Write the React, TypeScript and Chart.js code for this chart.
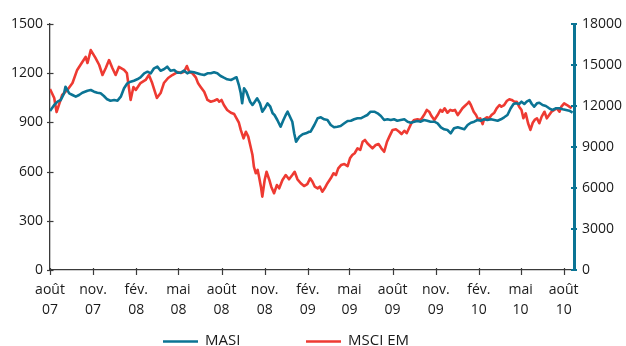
import React, { useEffect, useRef } from 'react';
import { Chart, registerables } from 'chart.js';

Chart.register(...registerables);

const START = '2007-08-01';
const END = '2010-08-23';

const tickDates = ['2007-08-01', '2007-11-01', '2008-02-01', '2008-05-01', '2008-08-01', '2008-11-01', '2009-02-01', '2009-05-01', '2009-08-01', '2009-11-01', '2010-02-01', '2010-05-01', '2010-08-01'];
const tickLabels = [['août', '07'], ['nov.', '07'], ['fév.', '08'], ['mai', '08'], ['août', '08'], ['nov.', '08'], ['fév.', '09'], ['mai', '09'], ['août', '09'], ['nov.', '09'], ['fév.', '10'], ['mai', '10'], ['août', '10']];

const seriesNames = ['MASI', 'MSCI EM'];

// MASI (right axis) – days since START, index level
const masiDays = [0, 9, 16, 23, 30, 33, 41, 48, 55, 62, 69, 80, 87, 94, 101, 108, 115, 122, 129, 137, 144, 151, 158, 165, 172, 179, 186, 193, 201, 208, 215, 222, 229, 236, 243, 250, 257, 265, 272, 279, 286, 293, 300, 307, 314, 321, 329, 336, 343, 350, 357, 364, 371, 378, 386, 393, 398, 403, 407, 410, 414, 419, 423, 427, 432, 437, 442, 448, 453, 458, 464, 470, 475, 479, 485, 492, 498, 503, 507, 512, 517, 521, 525, 532, 539, 546, 553, 556, 564, 571, 578, 585, 592, 599, 606, 613, 620, 628, 635, 642, 649, 656, 663, 670, 677, 684, 692, 699, 706, 713, 720, 727, 734, 741, 748, 756, 763, 770, 777, 784, 791, 798, 805, 812, 820, 827, 834, 841, 848, 855, 862, 870, 877, 884, 891, 898, 905, 912, 919, 926, 933, 941, 948, 955, 962, 969, 976, 983, 989, 994, 1001, 1006, 1012, 1017, 1023, 1028, 1033, 1039, 1044, 1051, 1058, 1065, 1072, 1079, 1087, 1094, 1101, 1108, 1115];
const masiValues = [11634, 12073, 12315, 12439, 12929, 13412, 12929, 12805, 12681, 12805, 12973, 13119, 13171, 13046, 12973, 12929, 12732, 12490, 12388, 12439, 12388, 12681, 13295, 13661, 13778, 13851, 13954, 14100, 14392, 14510, 14392, 14758, 14876, 14583, 14685, 14876, 14583, 14634, 14436, 14436, 14583, 14392, 14510, 14466, 14392, 14319, 14268, 14392, 14392, 14466, 14392, 14195, 14071, 13954, 13902, 14027, 14100, 13536, 12929, 12197, 13295, 13046, 12681, 12315, 12073, 12315, 12563, 12197, 11583, 11832, 12197, 11949, 11466, 11341, 10976, 10485, 10976, 11341, 11583, 11217, 10851, 10002, 9388, 9754, 9929, 10002, 10119, 10119, 10610, 11100, 11173, 11027, 10976, 10610, 10441, 10485, 10536, 10734, 10902, 10924, 11027, 11100, 11100, 11217, 11341, 11583, 11583, 11466, 11268, 10976, 11027, 10976, 11027, 10924, 10976, 11027, 10851, 10778, 10851, 10902, 10851, 10976, 10924, 10851, 10851, 10734, 10441, 10295, 10244, 10002, 10368, 10441, 10368, 10295, 10610, 10778, 10851, 10976, 10924, 11027, 10976, 11027, 10976, 10924, 11027, 11173, 11341, 11832, 12146, 12197, 12146, 12315, 12146, 12315, 12439, 12146, 11949, 12197, 12241, 12073, 12000, 11832, 11707, 11832, 11832, 11758, 11707, 11656, 11510];

// MSCI EM (left axis)
const emDays = [0, 9, 14, 21, 26, 37, 48, 58, 69, 76, 80, 87, 97, 105, 112, 119, 126, 133, 140, 147, 158, 164, 169, 172, 178, 183, 193, 204, 211, 218, 228, 236, 243, 252, 261, 272, 279, 286, 292, 297, 304, 311, 316, 321, 329, 336, 343, 350, 357, 361, 366, 371, 378, 386, 393, 398, 403, 407, 413, 418, 423, 428, 432, 435, 439, 443, 446, 450, 453, 458, 462, 468, 472, 478, 484, 489, 496, 503, 510, 517, 522, 528, 535, 542, 549, 555, 560, 565, 571, 576, 581, 586, 592, 599, 605, 610, 615, 621, 628, 635, 640, 645, 650, 656, 662, 667, 672, 677, 683, 688, 695, 701, 707, 713, 719, 724, 731, 738, 745, 750, 756, 761, 766, 771, 777, 784, 791, 798, 804, 809, 814, 820, 827, 833, 837, 842, 848, 854, 859, 864, 870, 875, 880, 885, 891, 894, 898, 904, 909, 914, 918, 923, 926, 932, 937, 942, 948, 953, 959, 963, 969, 975, 980, 985, 991, 996, 1001, 1006, 1010, 1015, 1020, 1025, 1030, 1034, 1039, 1044, 1049, 1055, 1060, 1065, 1070, 1076, 1081, 1087, 1091, 1097, 1103, 1108, 1113];
const emValues = [1104, 1049, 963, 1024, 1067, 1098, 1140, 1220, 1268, 1299, 1262, 1341, 1293, 1250, 1189, 1232, 1280, 1232, 1189, 1238, 1220, 1201, 1098, 1037, 1116, 1098, 1140, 1159, 1189, 1140, 1049, 1079, 1140, 1171, 1189, 1207, 1201, 1209, 1244, 1209, 1199, 1175, 1138, 1118, 1087, 1037, 1026, 1032, 1041, 1026, 1037, 1006, 976, 959, 951, 925, 898, 854, 803, 843, 813, 752, 701, 630, 590, 610, 569, 508, 447, 549, 599, 549, 508, 468, 518, 498, 549, 579, 553, 579, 599, 553, 529, 512, 524, 559, 538, 508, 498, 508, 477, 498, 529, 559, 590, 579, 620, 640, 646, 634, 681, 701, 712, 742, 732, 782, 793, 773, 756, 742, 762, 768, 742, 721, 782, 813, 854, 858, 843, 829, 849, 834, 864, 895, 915, 919, 915, 945, 976, 965, 939, 915, 945, 976, 965, 986, 959, 976, 971, 976, 945, 965, 986, 1000, 1016, 1026, 1006, 965, 945, 915, 925, 890, 919, 931, 925, 945, 959, 986, 1006, 996, 1006, 1032, 1041, 1037, 1026, 1026, 996, 976, 925, 955, 895, 854, 898, 915, 925, 895, 935, 965, 925, 945, 965, 976, 986, 965, 996, 1016, 1006, 996, 986];

const leftMax = 1500;
const leftStep = 300;
const rightMax = 18000;
const rightStep = 3000;

const BLUE = '#0b7494';
const RED = '#ee3a32';
const AXIS = '#3a3a3a';
const TEXT = '#1a1a1a';
const FONT = '"Open Sans", "Noto Sans", sans-serif';

const dayOf = (d: string) => Math.round((Date.parse(d) - Date.parse(START)) / 86400000);
const tickDays = tickDates.map(dayOf);

const decorPlugin = {
  id: 'decor',
  afterDraw(chart: any) {
    const ctx = chart.ctx;
    const ca = chart.chartArea;
    const { x, yL, yR } = chart.scales;
    ctx.save();
    ctx.lineCap = 'butt';
    ctx.strokeStyle = AXIS;
    ctx.lineWidth = 1.2;
    x.ticks.forEach((t: any) => {
      const px = Math.round(x.getPixelForValue(t.value)) + 0.5;
      ctx.beginPath();
      ctx.moveTo(px, ca.bottom - 2);
      ctx.lineTo(px, ca.bottom + 5);
      ctx.stroke();
    });
    yL.ticks.forEach((t: any) => {
      const py = Math.round(yL.getPixelForValue(t.value)) + 0.5;
      ctx.beginPath();
      ctx.moveTo(ca.left - 3, py);
      ctx.lineTo(ca.left + 3.5, py);
      ctx.stroke();
    });
    ctx.strokeStyle = BLUE;
    ctx.lineWidth = 2;
    yR.ticks.forEach((t: any) => {
      const py = Math.round(yR.getPixelForValue(t.value));
      ctx.beginPath();
      ctx.moveTo(ca.right - 3, py);
      ctx.lineTo(ca.right + 3, py);
      ctx.stroke();
    });
    // legend
    const items = [
      { label: seriesNames[0], color: BLUE, x0: 163 },
      { label: seriesNames[1], color: RED, x0: 306 },
    ];
    ctx.font = '15px ' + FONT;
    ctx.textBaseline = 'alphabetic';
    ctx.textAlign = 'left';
    items.forEach((it) => {
      ctx.strokeStyle = it.color;
      ctx.lineWidth = 2.5;
      ctx.beginPath();
      ctx.moveTo(it.x0, 341.5);
      ctx.lineTo(it.x0 + 35, 341.5);
      ctx.stroke();
      ctx.fillStyle = TEXT;
      ctx.fillText(it.label, it.x0 + 42, 345);
    });
    ctx.restore();
  },
};

export default function App() {
  const ref = useRef<HTMLCanvasElement | null>(null);

  useEffect(() => {
    if (!ref.current) return;
    const chart = new Chart(ref.current, {
      type: 'line',
      data: {
        datasets: [
          {
            label: seriesNames[0],
            data: masiDays.map((d, i) => ({ x: d, y: masiValues[i] })),
            yAxisID: 'yR',
            borderColor: BLUE,
            backgroundColor: BLUE,
            borderWidth: 2.6,
            pointRadius: 0,
            tension: 0,
            borderJoinStyle: 'round',
          },
          {
            label: seriesNames[1],
            data: emDays.map((d, i) => ({ x: d, y: emValues[i] })),
            yAxisID: 'yL',
            borderColor: RED,
            backgroundColor: RED,
            borderWidth: 2.6,
            pointRadius: 0,
            tension: 0,
            borderJoinStyle: 'round',
          },
        ],
      },
      options: {
        responsive: false,
        animation: false,
        events: [],
        layout: { padding: { top: 24, left: 0, right: 0, bottom: 0 } },
        plugins: { legend: { display: false }, tooltip: { enabled: false }, title: { display: false } },
        scales: {
          x: {
            type: 'linear',
            min: 0,
            max: dayOf(END),
            afterBuildTicks: (s: any) => {
              s.ticks = tickDays.map((v) => ({ value: v }));
            },
            afterFit: (s: any) => {
              s.height = 76;
            },
            grid: { display: true, drawOnChartArea: false, drawTicks: false },
            border: { display: true, color: AXIS, width: 1.2 },
            ticks: {
              autoSkip: false,
              maxRotation: 0,
              padding: 10,
              color: TEXT,
              font: { family: FONT, size: 14, lineHeight: 1.43 },
              callback: (v: any) => {
                const i = tickDays.indexOf(Number(v));
                return i >= 0 ? tickLabels[i] : '';
              },
            },
          },
          yL: {
            type: 'linear',
            position: 'left',
            min: 0,
            max: leftMax,
            afterFit: (s: any) => {
              s.width = 50;
            },
            grid: { display: true, drawOnChartArea: false, drawTicks: false },
            border: { display: true, color: AXIS, width: 1.3 },
            ticks: { stepSize: leftStep, padding: 7, color: TEXT, font: { family: FONT, size: 14 }, callback: (v: any) => String(v) },
          },
          yR: {
            type: 'linear',
            position: 'right',
            min: 0,
            max: rightMax,
            afterFit: (s: any) => {
              s.width = 52;
            },
            grid: { display: true, drawOnChartArea: false, drawTicks: false },
            border: { display: true, color: BLUE, width: 3, z: 1 },
            ticks: { stepSize: rightStep, padding: 8, color: TEXT, font: { family: FONT, size: 14 }, callback: (v: any) => String(v) },
          },
        },
      },
      plugins: [decorPlugin],
    } as any);
    return () => chart.destroy();
  }, []);

  return (
    <div style={{ position: 'fixed', left: 0, top: 0, width: 626, height: 346, background: '#fff' }}>
      <canvas ref={ref} width={626} height={346} style={{ display: 'block', width: 626, height: 346 }} />
    </div>
  );
}
